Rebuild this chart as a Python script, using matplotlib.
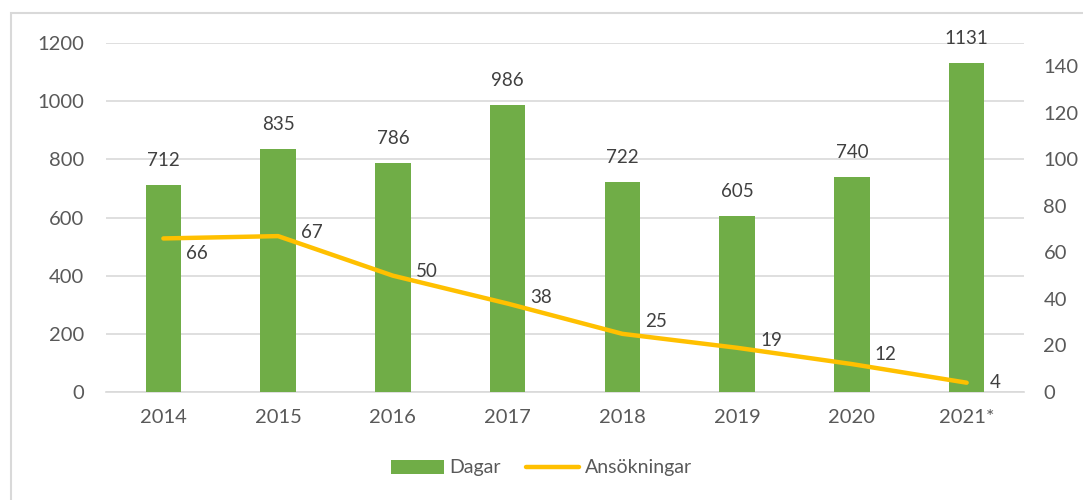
import matplotlib.pyplot as plt
from matplotlib.patches import Rectangle
import numpy as np

years = ['2014', '2015', '2016', '2017', '2018', '2019', '2020', '2021*']
dagar = [712, 835, 786, 986, 722, 605, 740, 1131]
ansokningar = [66, 67, 50, 38, 25, 19, 12, 4]
# vertical nudges (pixels) for the line labels, as placed in the original
label_dy = [-15, 4, 4, 6, 12, 7, 10, 0]

plt.rcParams['font.family'] = ['Lato', 'DejaVu Sans']
txt = '#595959'
lbl = '#404040'

fig = plt.figure(figsize=(10.83, 5), dpi=100)
ax = fig.add_axes([106 / 1083, 1 - 392 / 500, 918 / 1083, 349 / 500])
ax2 = ax.twinx()

x = np.arange(len(years))
ax.bar(x, dagar, width=0.31, color='#70AD47', label='Dagar', zorder=3)
for xi, v in zip(x, dagar):
    ax.annotate(str(v), (xi, v), xytext=(0, 16), textcoords='offset pixels',
                ha='center', va='bottom', fontsize=13.5, color=lbl)

ax2.plot(x, ansokningar, color='#FFC000', lw=3.2, solid_capstyle='round',
         label='Ansökningar', zorder=4)
for xi, v, dy in zip(x, ansokningar, label_dy):
    ax2.annotate(str(v), (xi, v), xytext=(23, dy), textcoords='offset pixels',
                 ha='left', va='center', fontsize=13.5, color=lbl)

ax.set_xlim(-0.5, len(years) - 0.5)
ax.set_ylim(0, 1200)
ax.set_yticks(range(0, 1201, 200))
ax2.set_ylim(0, 150)
ax2.set_yticks(range(0, 141, 20))
ax.set_xticks(x)
ax.set_xticklabels(years)

ax.grid(axis='y', color='#d9d9d9', lw=1.2, zorder=0)
ax.set_axisbelow(True)
for a in (ax, ax2):
    for s in a.spines.values():
        s.set_visible(False)
    a.tick_params(length=0, labelsize=14.5, colors=txt)
ax.spines['bottom'].set_visible(True)
ax.spines['bottom'].set_color('#d9d9d9')
ax.spines['bottom'].set_linewidth(1.2)
ax.tick_params(axis='y', pad=16)
ax.tick_params(axis='x', pad=12)
ax2.tick_params(axis='y', pad=14)

h1, l1 = ax.get_legend_handles_labels()
h2, l2 = ax2.get_legend_handles_labels()
fig.legend(h1 + h2, l1 + l2, loc='center', bbox_to_anchor=(0.5, 1 - 468 / 500),
           ncol=2, frameon=False, fontsize=14, labelcolor=txt,
           handlelength=2.7, columnspacing=1.3, handletextpad=0.3)

fig.patches.append(Rectangle((11 / 1083, -0.1), 1.2, 1 - 13 / 500 + 0.1,
                             transform=fig.transFigure, fill=False,
                             edgecolor='#d9d9d9', lw=1.5))

fig.savefig('out.png', dpi=100)
